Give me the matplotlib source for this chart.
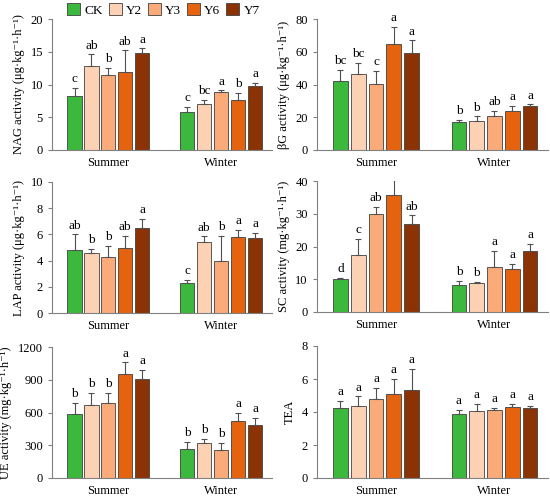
import numpy as np
import matplotlib
matplotlib.use('Agg')
import matplotlib.pyplot as plt
from matplotlib.patches import Patch

plt.rcParams['font.family'] = ['Liberation Serif', 'DejaVu Serif']
plt.rcParams['font.size'] = 8.5

seasons = ['Summer', 'Winter']
treatments = ['CK', 'Y2', 'Y3', 'Y6', 'Y7']
colors = ['#3cb93c', '#fdd2b4', '#fbab7a', '#e5620f', '#8c3306']

# mean values, rows = season, cols = treatment
nag = [[8.3, 12.8, 11.5, 11.9, 14.8], [5.8, 7.0, 8.8, 7.7, 9.8]]
nag_top = [[9.5, 14.6, 12.5, 15.2, 15.5], [6.6, 7.7, 9.1, 8.7, 10.3]]
nag_let = [['c', 'ab', 'b', 'ab', 'a'], ['c', 'bc', 'a', 'b', 'a']]

bg = [[42, 46.5, 40.5, 64.5, 59], [17, 18, 21, 24, 27]]
bg_top = [[49, 53, 48.5, 75, 67], [18.5, 20.5, 24, 27, 27.8]]
bg_let = [['bc', 'bc', 'c', 'a', 'a'], ['b', 'b', 'ab', 'a', 'a']]

lap = [[4.8, 4.6, 4.25, 5.0, 6.5], [2.3, 5.4, 4.0, 5.8, 5.7]]
lap_top = [[6.0, 4.9, 5.15, 5.9, 7.2], [2.55, 5.85, 5.9, 6.35, 6.1]]
lap_let = [['ab', 'b', 'b', 'ab', 'a'], ['c', 'ab', 'b', 'a', 'a']]

sc = [[10, 17.5, 30, 35.8, 26.8], [8.2, 9.0, 13.8, 13.2, 18.7]]
sc_top = [[10.3, 22.3, 32, 40.2, 29.5], [9.4, 9.3, 18.7, 14.7, 20.8]]
sc_let = [['d', 'c', 'ab', 'a', 'ab'], ['b', 'b', 'a', 'a', 'a']]

ue = [[585, 665, 685, 950, 910], [270, 325, 260, 525, 490]]
ue_top = [[685, 780, 780, 1060, 990], [330, 355, 320, 595, 550]]
ue_let = [['b', 'b', 'b', 'a', 'a'], ['b', 'b', 'b', 'a', 'a']]

tea = [[4.25, 4.35, 4.8, 5.1, 5.35], [3.9, 4.05, 4.15, 4.3, 4.25]]
tea_top = [[4.65, 4.95, 5.45, 6.0, 6.6], [4.15, 4.5, 4.25, 4.5, 4.35]]
tea_let = [['a'] * 5, ['a'] * 5]

unit_ug = '(μg·kg⁻¹·h⁻¹)'
unit_mg = '(mg·kg⁻¹·h⁻¹)'

panels = [
    (nag, nag_top, nag_let, 'NAG activity ' + unit_ug, 20, 5, [0.0945, 0.70, 0.40, 0.262]),
    (bg, bg_top, bg_let, 'βG activity ' + unit_ug, 80, 20, [0.576, 0.70, 0.42, 0.262]),
    (lap, lap_top, lap_let, 'LAP activity ' + unit_ug, 10, 2, [0.0945, 0.374, 0.40, 0.262]),
    (sc, sc_top, sc_let, 'SC activity ' + unit_mg, 40, 10, [0.576, 0.376, 0.42, 0.262]),
    (ue, ue_top, ue_let, 'UE activity ' + unit_mg, 1200, 300, [0.0945, 0.044, 0.40, 0.262]),
    (tea, tea_top, tea_let, 'TEA', 8, 2, [0.576, 0.044, 0.42, 0.264]),
]

fig = plt.figure(figsize=(5.5, 5), dpi=100)
x = np.arange(len(seasons))
w = 0.125
step = 0.15

for vals, tops, lets, ylab, ymax, ystep, pos in panels:
    ax = fig.add_axes(pos)
    vals = np.array(vals)
    tops = np.array(tops)
    for i, t in enumerate(treatments):
        xs = x + (i - 2) * step
        err = tops[:, i] - vals[:, i]
        ax.bar(xs, vals[:, i], width=w, color=colors[i], edgecolor='#404040', linewidth=0.6)
        ax.errorbar(xs, vals[:, i], yerr=[np.zeros(len(err)), err], fmt='none',
                    ecolor='#505050', elinewidth=0.8, capsize=2, capthick=0.8)
        for j in range(len(seasons)):
            ax.annotate(lets[j][i], (xs[j], tops[j, i]), xytext=(0, 2),
                        textcoords='offset points', ha='center', va='bottom', fontsize=9.5)
    ax.set_xlim(-0.5, 1.45)
    ax.set_ylim(0, ymax)
    ax.set_yticks(np.arange(0, ymax + ystep / 2, ystep))
    ax.set_xticks(x)
    ax.set_xticklabels(seasons, fontsize=9)
    ax.tick_params(axis='y', labelsize=9)
    ax.set_ylabel(ylab, fontsize=9)
    for s in ['top', 'right']:
        ax.spines[s].set_visible(False)
    for s in ['left', 'bottom']:
        ax.spines[s].set_color('#808080')
        ax.spines[s].set_linewidth(0.8)
    ax.tick_params(axis='y', direction='out', length=3, color='#808080')
    ax.tick_params(axis='x', length=0, pad=5)

handles = [Patch(facecolor=c, edgecolor='#404040', linewidth=0.6) for c in colors]
fig.legend(handles, treatments, ncol=5, loc='center', bbox_to_anchor=(0.297, 0.98),
           frameon=False, fontsize=9.5, handlelength=1.0, handleheight=1.0,
           columnspacing=0.45, handletextpad=0.3, borderpad=0)

fig.savefig('out.png', dpi=100)
